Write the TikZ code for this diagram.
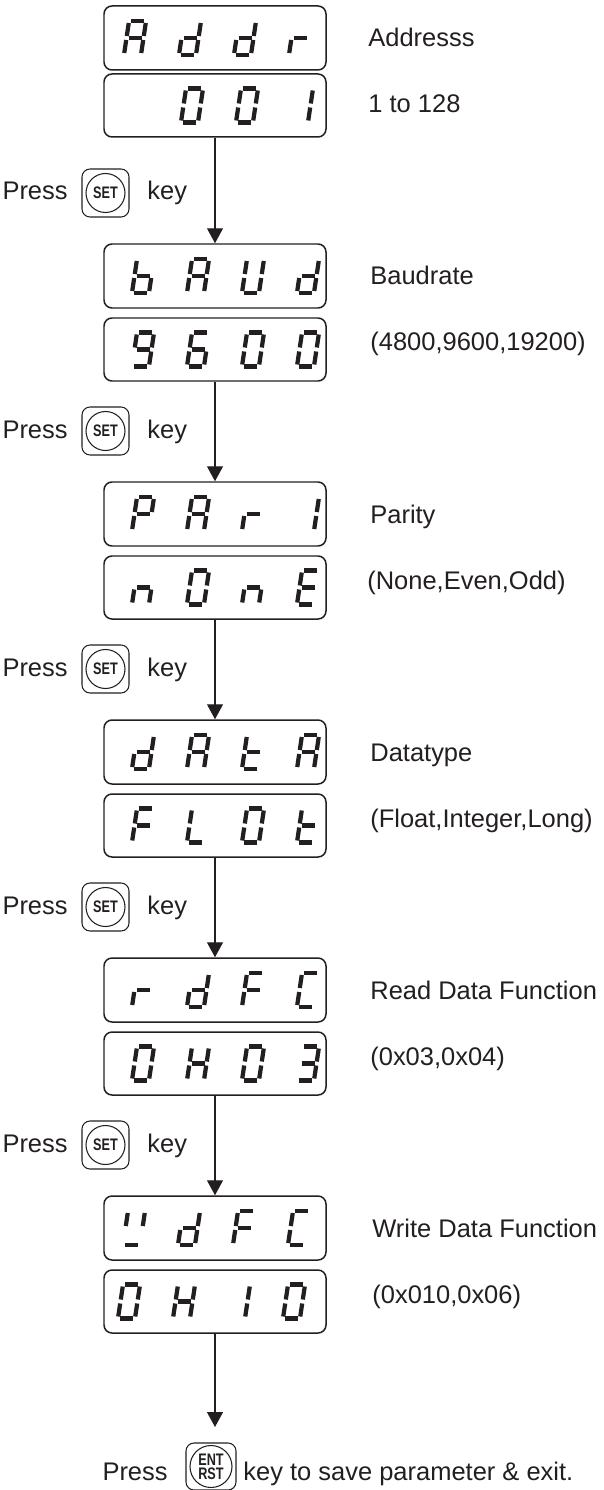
\documentclass[tikz,border=0pt]{standalone}
\usepackage{fontspec}
\setmainfont{Liberation Sans}
\newfontfamily\keyfont[FakeStretch=0.76]{Liberation Sans Bold}
\usetikzlibrary{arrows.meta,positioning}
\definecolor{ink}{RGB}{35,31,32}
\tikzset{
  >={Triangle[length=3mm,width=3.2mm]},
  arrow/.style={->, draw=ink, line width=0.7pt},
  dispbox/.style={
    rounded corners=0.16cm,
    draw=ink,
    line width=0.85pt,
    minimum width=4.44cm,
    minimum height=1.28cm,
    inner sep=0pt
  },
  valbox/.style={dispbox, minimum height=1.26cm},
  segline/.style={draw=ink, line width=2.4pt},
  keybox/.style={
    rounded corners=0.16cm,
    draw=ink,
    line width=0.6pt,
    minimum width=0.94cm,
    minimum height=0.96cm,
    inner sep=0pt,
    align=center,
    text=ink,
    font=\keyfont\fontsize{9.5}{8}\selectfont,
    path picture={\draw[ink, line width=0.6pt] (path picture bounding box.center) circle[radius=0.39cm];}
  },
  note/.style={font=\fontsize{14.5}{16}\selectfont, text=ink, inner sep=0pt}
}
% lit segments of each display character
\newcommand{\segNone}{}
\newcommand{\segA}{a,b,c,e,f,g}
\newcommand{\segb}{c,d,e,f,g}
\newcommand{\segC}{a,d,e,f}
\newcommand{\segd}{b,c,d,e,g}
\newcommand{\segE}{a,d,e,f,g}
\newcommand{\segF}{a,e,f,g}
\newcommand{\segH}{b,c,e,f,g}
\newcommand{\segL}{d,e,f}
\newcommand{\segn}{c,e,g}
\newcommand{\segP}{a,b,e,f,g}
\newcommand{\segr}{e,g}
\newcommand{\segt}{d,e,f,g}
\newcommand{\segU}{b,c,d,e,f}
\newcommand{\segW}{b,d,f}
\newcommand{\segZero}{a,b,c,d,e,f}
\newcommand{\segOne}{b,c}
\newcommand{\segThree}{a,b,c,d,g}
\newcommand{\segSix}{a,c,d,e,f,g}
\newcommand{\segNine}{a,b,c,d,f,g}
\newcommand{\SegGlyph}[3]{%
  \ifx#3\segNone\else
  \begin{scope}[shift={(#1,#2)}, xslant=0.15]
    \coordinate (a1) at (-0.13, 0.34); \coordinate (a2) at (0.13, 0.34);
    \coordinate (b1) at (0.17, 0.30);  \coordinate (b2) at (0.17, 0.04);
    \coordinate (c1) at (0.17,-0.04);  \coordinate (c2) at (0.17,-0.30);
    \coordinate (d1) at (-0.13,-0.34); \coordinate (d2) at (0.13,-0.34);
    \coordinate (e1) at (-0.17,-0.04); \coordinate (e2) at (-0.17,-0.30);
    \coordinate (f1) at (-0.17, 0.30); \coordinate (f2) at (-0.17, 0.04);
    \coordinate (g1) at (-0.13, 0);    \coordinate (g2) at (0.13, 0);
    \foreach \s in #3 {\draw[segline] (\s1) -- (\s2);}
  \end{scope}\fi
}
\newcommand{\SegRow}[6]{%
  \SegGlyph{#1}{#2}{#3}
  \SegGlyph{#1+1.1}{#2}{#4}
  \SegGlyph{#1+2.2}{#2}{#5}
  \SegGlyph{#1+3.3}{#2}{#6}
}

\begin{document}
\begin{tikzpicture}[x=1cm,y=1cm]
  \useasboundingbox (0,0) rectangle (12.06,-29.8);

  % displays
  \node[dispbox] (addrName) at (4.3,-0.76) {};
  \node[valbox] (addrVal) at (4.3,-2.11) {};
  \node[dispbox] (baudName) at (4.3,-5.52) {};
  \node[valbox] (baudVal) at (4.3,-6.99) {};
  \node[dispbox] (parName) at (4.3,-10.28) {};
  \node[valbox] (parVal) at (4.3,-11.75) {};
  \node[dispbox] (typeName) at (4.3,-15.04) {};
  \node[valbox] (typeVal) at (4.3,-16.51) {};
  \node[dispbox] (rdfcName) at (4.3,-19.80) {};
  \node[valbox] (rdfcVal) at (4.3,-21.27) {};
  \node[dispbox] (wdfcName) at (4.3,-24.56) {};
  \node[valbox] (wdfcVal) at (4.3,-26.03) {};

  \SegRow{2.70}{-0.76}{\segA}{\segd}{\segd}{\segr}
  \SegRow{2.74}{-2.11}{\segNone}{\segZero}{\segZero}{\segOne}
  \SegRow{2.86}{-5.52}{\segb}{\segA}{\segU}{\segd}
  \SegRow{2.86}{-6.99}{\segNine}{\segSix}{\segZero}{\segZero}
  \SegRow{2.86}{-10.28}{\segP}{\segA}{\segr}{\segOne}
  \SegRow{2.86}{-11.75}{\segn}{\segZero}{\segn}{\segE}
  \SegRow{2.86}{-15.04}{\segd}{\segA}{\segt}{\segA}
  \SegRow{2.86}{-16.51}{\segF}{\segL}{\segZero}{\segt}
  \SegRow{2.86}{-19.80}{\segr}{\segd}{\segF}{\segC}
  \SegRow{2.86}{-21.27}{\segZero}{\segH}{\segZero}{\segThree}
  \SegRow{2.68}{-24.56}{\segW}{\segd}{\segF}{\segC}
  \SegRow{2.58}{-26.03}{\segZero}{\segH}{\segOne}{\segZero}

  % parameter names
  \node[note, anchor=base west] (addrText) at (7.36,-0.94) {Addresss};
  \node[note, anchor=base west] (addrRange) at (7.36,-2.26) {1 to 128};
  \node[note, anchor=base west] (baudText) at (7.40,-5.70) {Baudrate};
  \node[note, anchor=base west] (baudRange) at (7.40,-7.02) {(4800,9600,19200)};
  \node[note, anchor=base west] (parText) at (7.40,-10.46) {Parity};
  \node[note, anchor=base west] (parRange) at (7.34,-11.78) {(None,Even,Odd)};
  \node[note, anchor=base west] (typeText) at (7.40,-15.22) {Datatype};
  \node[note, anchor=base west] (typeRange) at (7.40,-16.54) {(Float,Integer,Long)};
  \node[note, anchor=base west] (rdfcText) at (7.40,-19.98) {Read Data Function};
  \node[note, anchor=base west] (rdfcRange) at (7.40,-21.30) {(0x03,0x04)};
  \node[note, anchor=base west] (wdfcText) at (7.44,-24.74) {Write Data Function};
  \node[note, anchor=base west] (wdfcRange) at (7.44,-26.06) {(0x010,0x06)};

  % key presses
  \node[keybox] (set1) at (2.11,-3.86) {SET};
  \node[note, anchor=base east] (press1) at (1.36,-4.00) {Press};
  \node[note, anchor=base west] (key1) at (2.94,-4.00) {key};
  \node[keybox] (set2) at (2.11,-8.62) {SET};
  \node[note, anchor=base east] (press2) at (1.36,-8.76) {Press};
  \node[note, anchor=base west] (key2) at (2.94,-8.76) {key};
  \node[keybox] (set3) at (2.11,-13.38) {SET};
  \node[note, anchor=base east] (press3) at (1.36,-13.52) {Press};
  \node[note, anchor=base west] (key3) at (2.94,-13.52) {key};
  \node[keybox] (set4) at (2.11,-18.14) {SET};
  \node[note, anchor=base east] (press4) at (1.36,-18.28) {Press};
  \node[note, anchor=base west] (key4) at (2.94,-18.28) {key};
  \node[keybox] (set5) at (2.11,-22.90) {SET};
  \node[note, anchor=base east] (press5) at (1.36,-23.04) {Press};
  \node[note, anchor=base west] (key5) at (2.94,-23.04) {key};

  \node[keybox, minimum width=1.0cm, minimum height=0.94cm, path picture={\draw[ink, line width=0.6pt] (path picture bounding box.center) circle[radius=0.42cm];}] (ent) at (4.22,-29.33) {ENT\\RST};
  \node[note, anchor=base east] (pressEnt) at (3.36,-29.6) {Press};
  \node[note, anchor=base west] (saveText) at (4.86,-29.6) {key to save parameter \& exit.};

  \coordinate (finish) at (4.3,-28.54);

  \draw[arrow] (addrVal.south) -- (baudName.north);
  \draw[arrow] (baudVal.south) -- (parName.north);
  \draw[arrow] (parVal.south) -- (typeName.north);
  \draw[arrow] (typeVal.south) -- (rdfcName.north);
  \draw[arrow] (rdfcVal.south) -- (wdfcName.north);
  \draw[arrow] (wdfcVal.south) -- (finish);
\end{tikzpicture}
\end{document}
